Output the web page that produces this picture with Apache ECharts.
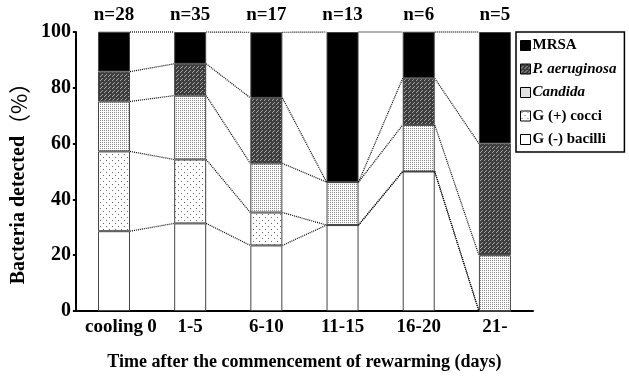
<!DOCTYPE html>
<html lang="en">

<head>
    <meta charset="UTF-8">
    <title>Bacteria detected</title>
    <script src="https://cdn.jsdelivr.net/npm/echarts@6/dist/echarts.min.js"></script>
    <style>
        body {
            margin: 0;
            background: #fff;
        }

        #root {
            width: 629px;
            height: 376px;
        }
    </style>
</head>

<body>

    <div id="root"></div>
    <script>

        var categories = ['cooling', '1-5', '6-10', '11-15', '16-20', '21-'];
        var nLabels = ['n=28', 'n=35', 'n=17', 'n=13', 'n=6', 'n=5'];
        var boundaryLabels = ['', '0', '', '', '', '', ''];
        var yTicks = [0, 20, 40, 60, 80, 100];

        // percent of each bar, stacked from the bottom
        var gNeg = [28.6, 31.4, 23.5, 30.8, 50.0, 0];
        var gPos = [28.6, 22.9, 11.8, 0, 0, 0];
        var candida = [17.9, 22.9, 17.6, 15.4, 16.7, 20.0];
        var pAer = [10.7, 11.4, 23.5, 0, 16.7, 40.0];
        var mrsa = [14.3, 11.4, 23.5, 53.8, 16.7, 40.0];

        var FONT = '"Liberation Serif", "Times New Roman", serif';
        var BAR_W = 32;

        // small canvas tiles used as fill patterns
        function tile(size, bg, pixels, fg) {
            var c = document.createElement('canvas');
            c.width = size;
            c.height = size;
            var ctx = c.getContext('2d');
            ctx.fillStyle = bg;
            ctx.fillRect(0, 0, size, size);
            ctx.fillStyle = fg;
            pixels.forEach(function (p) {
                ctx.fillRect(p[0], p[1], 1, 1);
            });
            return { image: c, repeat: 'repeat' };
        }

        var fillGPos = tile(6, '#fff', [[1, 1], [4, 4]], '#666');
        var fillCandida = tile(2, '#fff', [[0, 0]], '#8a8a8a');
        var fillPAer = tile(4, '#3c3c3c', [[0, 0], [2, 2], [1, 3]], '#a8a8a8');

        var layers = [
            { name: 'G (-) bacilli', data: gNeg, color: '#fff' },
            { name: 'G (+) cocci', data: gPos, color: fillGPos },
            { name: 'Candida', data: candida, color: fillCandida },
            { name: 'P. aeruginosa', data: pAer, color: fillPAer },
            { name: 'MRSA', data: mrsa, color: '#000' }
        ];

        // cumulative tops for the dotted connectors
        function cumAt(i) {
            var out = [];
            var s = 0;
            layers.forEach(function (l) {
                s += l.data[i];
                out.push(Math.min(s, 100));
            });
            return out;
        }

        var series = layers.map(function (l) {
            return {
                name: l.name,
                type: 'bar',
                stack: 'all',
                barWidth: BAR_W,
                data: l.data,
                itemStyle: {
                    color: l.color,
                    borderColor: '#444',
                    borderWidth: 1
                },
                emphasis: { disabled: true }
            };
        });

        series.push({
            type: 'custom',
            name: 'links',
            data: categories.slice(0, -1).map(function (c, i) { return [i]; }),
            encode: { x: 0 },
            z: 3,
            silent: true,
            renderItem: function (params, api) {
                var i = api.value(0);
                var a = cumAt(i);
                var b = cumAt(i + 1);
                var children = a.map(function (v, k) {
                    var p1 = api.coord([i, v]);
                    var p2 = api.coord([i + 1, b[k]]);
                    return {
                        type: 'line',
                        shape: {
                            x1: p1[0] + BAR_W / 2, y1: p1[1],
                            x2: p2[0] - BAR_W / 2, y2: p2[1]
                        },
                        style: { stroke: '#000', lineWidth: 1.2, lineDash: [1, 1] }
                    };
                });
                return { type: 'group', children: children };
            }
        });

        var chart = echarts.init(document.getElementById('root'));

        var legendOrder = ['MRSA', 'P. aeruginosa', 'Candida', 'G (+) cocci', 'G (-) bacilli'];
        var italic = { 'P. aeruginosa': true, 'Candida': true };

        chart.setOption({
            backgroundColor: '#fff',
            animation: false,
            grid: { left: 72, right: 96, top: 32, bottom: 65 },
            legend: {
                orient: 'vertical',
                left: 516,
                top: 32,
                padding: [6, 8, 5, 4],
                itemGap: 8.5,
                itemWidth: 10,
                itemHeight: 10,
                borderColor: '#000',
                borderWidth: 1.5,
                icon: 'rect',
                selectedMode: false,
                itemStyle: { borderColor: '#000', borderWidth: 1 },
                data: legendOrder.map(function (n) {
                    return {
                        name: n,
                        textStyle: { fontStyle: italic[n] ? 'italic' : 'normal' }
                    };
                }),
                textStyle: {
                    fontFamily: FONT,
                    fontWeight: 'bold',
                    fontSize: 15,
                    color: '#000',
                    padding: [0, 0, 0, -3]
                }
            },
            xAxis: [{
                type: 'category',
                data: categories,
                position: 'bottom',
                axisLine: { lineStyle: { color: '#000', width: 2 } },
                axisTick: { inside: true, length: 6, lineStyle: { color: '#000', width: 2 } },
                axisLabel: {
                    color: '#000', fontFamily: FONT, fontWeight: 'bold', fontSize: 19, margin: 7
                },
                name: 'Time after the commencement of rewarming (days)',
                nameLocation: 'middle',
                nameGap: 42,
                nameTextStyle: { color: '#000', fontFamily: FONT, fontWeight: 'bold', fontSize: 18 }
            }, {
                type: 'category',
                data: nLabels,
                position: 'top',
                axisLine: { show: false },
                axisTick: { show: false },
                axisLabel: {
                    color: '#000', fontFamily: FONT, fontWeight: 'bold', fontSize: 19, margin: 7
                }
            }, {
                type: 'value',
                position: 'bottom',
                min: 0,
                max: boundaryLabels.length - 1,
                interval: 1,
                axisLine: { show: false },
                axisTick: { show: false },
                splitLine: { show: false },
                axisLabel: {
                    color: '#000', fontFamily: FONT, fontWeight: 'bold', fontSize: 19, margin: 7,
                    formatter: function (v) { return boundaryLabels[v] || ''; }
                }
            }],
            yAxis: {
                type: 'value',
                min: yTicks[0],
                max: yTicks[yTicks.length - 1],
                interval: yTicks[1] - yTicks[0],
                splitLine: { show: false },
                axisLine: { show: true, lineStyle: { color: '#000', width: 2 } },
                axisTick: { show: true, length: 3, lineStyle: { color: '#000', width: 2 } },
                axisLabel: {
                    color: '#000', fontFamily: FONT, fontWeight: 'bold', fontSize: 20, margin: 5
                },
                name: '{a|Bacteria detected}{b|（%）}',
                nameLocation: 'middle',
                nameGap: 19,
                nameTextStyle: {
                    rich: {
                        a: { color: '#000', fontFamily: FONT, fontWeight: 'bold', fontSize: 20 },
                        b: {
                            color: '#000', fontFamily: '"Noto Sans CJK SC"', fontSize: 22,
                            padding: [0, 13, 0, 0]
                        }
                    }
                }
            },
            series: series
        });

    </script>

</body>

</html>
